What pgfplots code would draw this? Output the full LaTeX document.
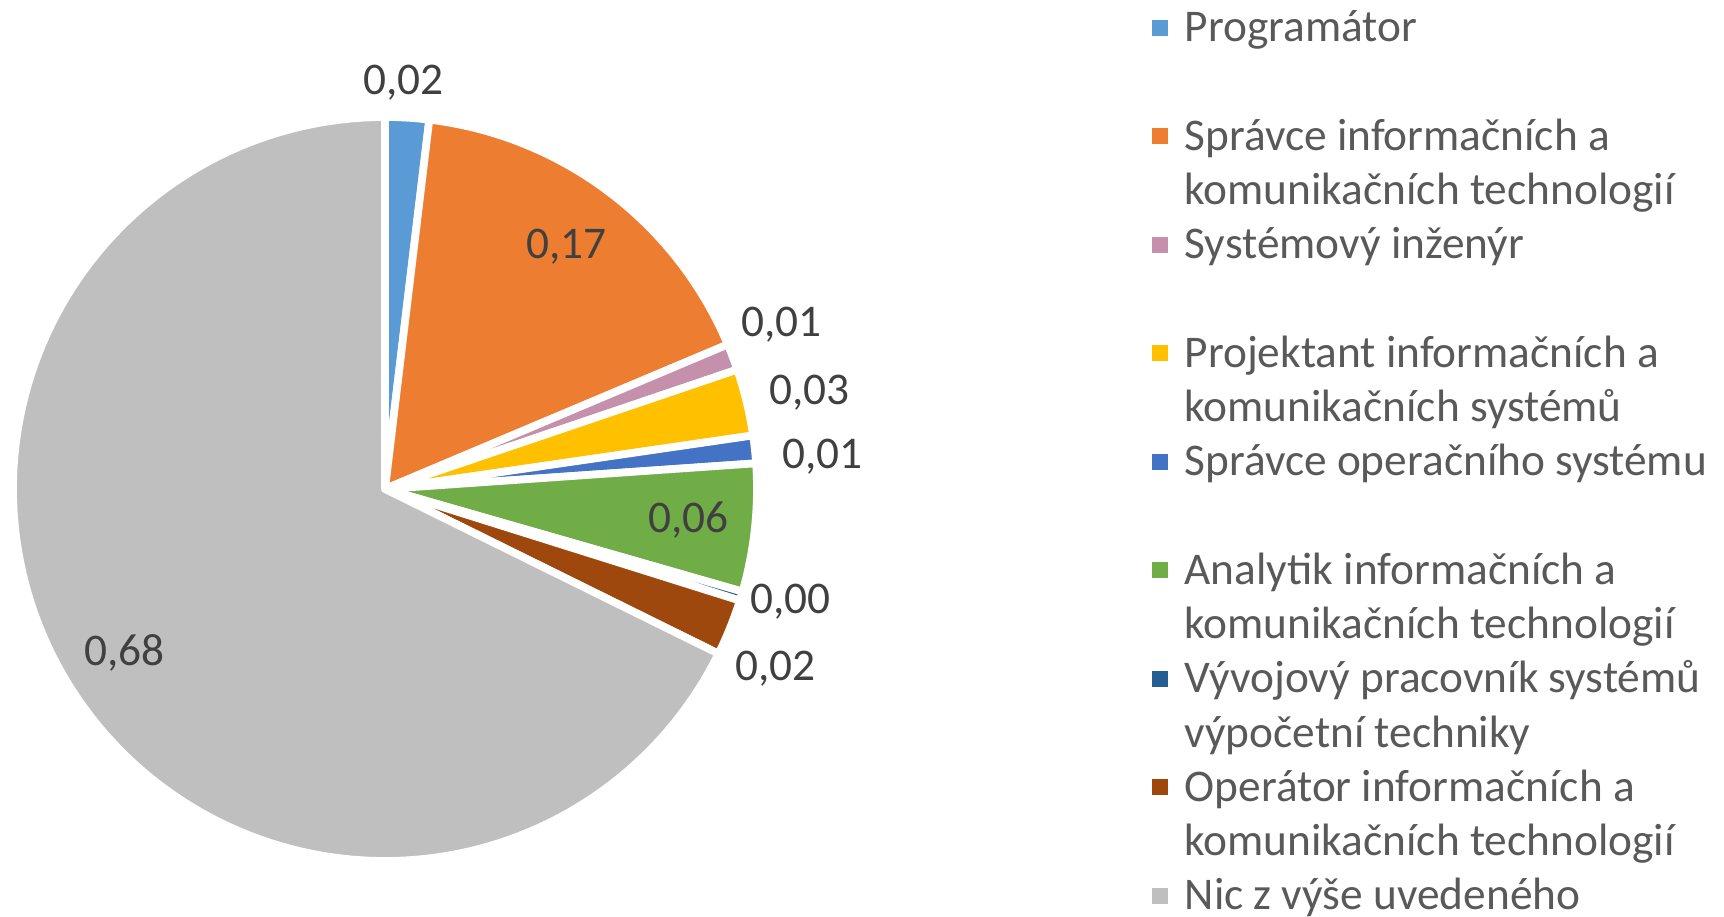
\documentclass[border=0pt]{standalone}
\usepackage{pgfplots}
\pgfplotsset{compat=1.18}
\usepgfplotslibrary{polar}
\usepackage{fontspec}
\setmainfont{Carlito}
\definecolor{cA}{HTML}{5B9BD5}
\definecolor{cB}{HTML}{ED7D31}
\definecolor{cC}{HTML}{C490AB}
\definecolor{cD}{HTML}{FFC000}
\definecolor{cE}{HTML}{4472C4}
\definecolor{cF}{HTML}{70AD47}
\definecolor{cG}{HTML}{255E91}
\definecolor{cH}{HTML}{9E480E}
\definecolor{cI}{HTML}{BFBFBF}
\definecolor{legtext}{HTML}{595959}
\definecolor{labtext}{HTML}{404040}
\newcommand\chartfont{\fontsize{12.9}{15}\selectfont}
% shares
\def\vA{0.019}  % Programátor
\def\vB{0.1675} % Správce ICT
\def\vC{0.0115} % Systémový inženýr
\def\vD{0.029}  % Projektant
\def\vE{0.012}  % Správce OS
\def\vF{0.0555} % Analytik
\def\vG{0.004}  % Vývojový pracovník
\def\vH{0.0245} % Operátor
\def\vI{0.677}  % Nic
\pgfmathsetmacro{\sA}{\vA}
\pgfmathsetmacro{\sB}{\sA+\vB}
\pgfmathsetmacro{\sC}{\sB+\vC}
\pgfmathsetmacro{\sD}{\sC+\vD}
\pgfmathsetmacro{\sE}{\sD+\vE}
\pgfmathsetmacro{\sF}{\sE+\vF}
\pgfmathsetmacro{\sG}{\sF+\vG}
\pgfmathsetmacro{\sH}{\sG+\vH}
\pgfmathsetmacro{\sI}{\sH+\vI}
\pgfmathsetmacro{\aA}{90-360*\sA}
\pgfmathsetmacro{\aB}{90-360*\sB}
\pgfmathsetmacro{\aC}{90-360*\sC}
\pgfmathsetmacro{\aD}{90-360*\sD}
\pgfmathsetmacro{\aE}{90-360*\sE}
\pgfmathsetmacro{\aF}{90-360*\sF}
\pgfmathsetmacro{\aG}{90-360*\sG}
\pgfmathsetmacro{\aH}{90-360*\sH}
\pgfmathsetmacro{\aI}{90-360*\sI}
\tikzset{lab/.style={font=\chartfont, text=labtext, inner sep=0pt, yshift=-0.25mm}}
\begin{document}
\begin{tikzpicture}[x=0.1mm,y=-0.1mm]
\path[use as bounding box] (0,0) rectangle (1724,917);
\begin{polaraxis}[
  at={(38.5mm,-48.9mm)}, anchor=center,
  scale only axis, width=74.4mm, height=74.4mm,
  ymin=0, ymax=1, xmin=0, xmax=360,
  hide axis, clip=false,
  xtick=\empty, ytick=\empty,
  every axis plot/.append style={draw=white, line width=2.2pt, line join=round},
]
\addplot[fill=cA, domain=\aA:90, samples=20] {1} -- (axis cs:0,0) -- cycle;
\addplot[fill=cB, domain=\aB:\aA, samples=60] {1} -- (axis cs:0,0) -- cycle;
\addplot[fill=cC, domain=\aC:\aB, samples=10] {1} -- (axis cs:0,0) -- cycle;
\addplot[fill=cD, domain=\aD:\aC, samples=10] {1} -- (axis cs:0,0) -- cycle;
\addplot[fill=cE, domain=\aE:\aD, samples=10] {1} -- (axis cs:0,0) -- cycle;
\addplot[fill=cF, domain=\aF:\aE, samples=20] {1} -- (axis cs:0,0) -- cycle;
\addplot[fill=cG, domain=\aG:\aF, samples=5] {1} -- (axis cs:0,0) -- cycle;
\addplot[fill=cH, domain=\aH:\aG, samples=10] {1} -- (axis cs:0,0) -- cycle;
\addplot[fill=cI, domain=\aI:\aH, samples=150] {1} -- (axis cs:0,0) -- cycle;
\node[lab] at (axis cs:87.4,1.100) {0,02};
\node[lab] at (axis cs:53.5,0.819) {0,17};
\node[lab] at (axis cs:22.8,1.157) {0,01};
\node[lab] at (axis cs:13.1,1.171) {0,03};
\node[lab] at (axis cs:4.56,1.180) {0,01};
\node[lab] at (axis cs:-5.44,0.819) {0,06};
\node[lab] at (axis cs:-15.2,1.130) {0,00};
\node[lab] at (axis cs:-24.4,1.152) {0,02};
\node[lab] at (axis cs:211.8,0.825) {0,68};
\end{polaraxis}
% legend
\begin{scope}[yshift=-0.25mm, every node/.style={anchor=base west, inner sep=0pt, text=legtext, font=\chartfont}]
\def\sq#1#2{\fill[#1] (1152,#2-22) rectangle (1168,#2-6);}
\sq{cA}{39}    \node at (1184,39) {Programátor};
\sq{cB}{147.5} \node at (1184,147.5) {Správce informačních a};
               \node at (1184,202) {komunikačních technologií};
\sq{cC}{256}   \node at (1184,256) {Systémový inženýr};
\sq{cD}{364.5} \node at (1184,364.5) {Projektant informačních a};
               \node at (1184,419) {komunikačních systémů};
\sq{cE}{473}   \node at (1184,473) {Správce operačního systému};
\sq{cF}{581.5} \node at (1184,581.5) {Analytik informačních a};
               \node at (1184,636) {komunikačních technologií};
\sq{cG}{690}   \node at (1184,690) {Vývojový pracovník systémů};
               \node at (1184,744.5) {výpočetní techniky};
\sq{cH}{798.5} \node at (1184,798.5) {Operátor informačních a};
               \node at (1184,853) {komunikačních technologií};
\sq{cI}{907}   \node at (1184,907) {Nic z výše uvedeného};
\end{scope}
\end{tikzpicture}
\end{document}
